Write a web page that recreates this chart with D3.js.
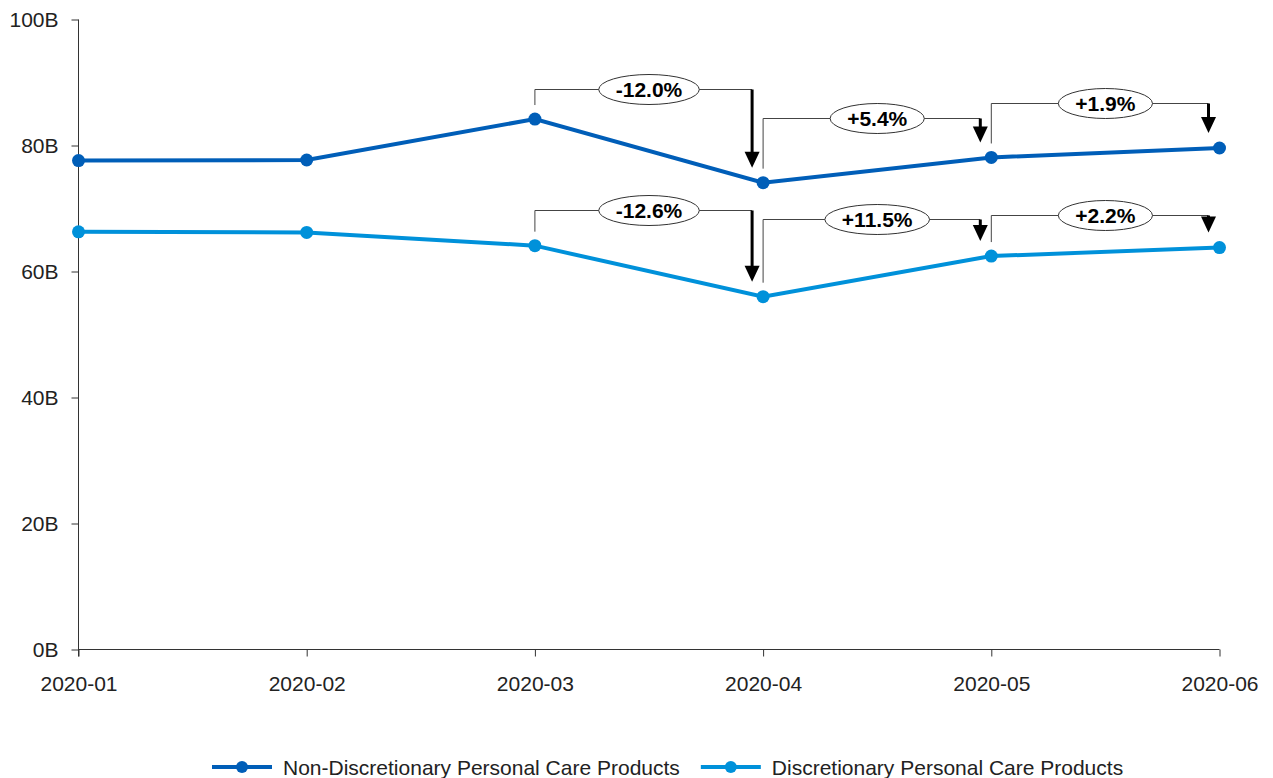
<!DOCTYPE html>
<html>
<head>
<meta charset="utf-8">
<script src="https://cdn.jsdelivr.net/npm/d3@7/dist/d3.min.js"></script>
<style>
  html, body { margin: 0; padding: 0; background: #fff; }
  svg { display: block; font-family: "Liberation Sans", Arial, sans-serif; }
</style>
</head>
<body>
<svg id="chart" width="1273" height="778"></svg>
<script>
// Monthly sales, billions
const months = ["2020-01", "2020-02", "2020-03", "2020-04", "2020-05", "2020-06"];
const nonDiscretionary = [77.6, 77.7, 84.2, 74.1, 78.1, 79.6];
const discretionary = [66.3, 66.2, 64.1, 56.0, 62.45, 63.8];
const seriesNames = ["Non-Discretionary Personal Care Products", "Discretionary Personal Care Products"];
const seriesColors = ["#005EB8", "#0091DA"];
// Height (in billions) of the month-over-month change brackets
const nonDiscBracketLevels = [88.9, 84.4, 86.7];
const discBracketLevels = [69.7, 68.3, 69.0];
const yTicks = [0, 20, 40, 60, 80, 100];

const svg = d3.select("#chart");
const x = d3.scalePoint().domain(months).range([78.5, 1219.5]);
const y = d3.scaleLinear().domain([0, 100]).range([649.5, 19.5]);

// Axes
const yAxis = svg.append("g")
  .attr("transform", "translate(78.5,0)")
  .call(d3.axisLeft(y).tickValues(yTicks).tickSize(7).tickPadding(13).tickFormat(d => d + "B"));
const xAxis = svg.append("g")
  .attr("transform", "translate(0,649.5)")
  .call(d3.axisBottom(x).tickSize(7).tickPadding(20));
[yAxis, xAxis].forEach(g => {
  g.attr("font-size", 21).attr("font-family", "Liberation Sans, Arial, sans-serif");
  g.select(".domain").attr("stroke", "#333").attr("stroke-width", 1);
  g.selectAll(".tick line").attr("stroke", "#333");
  g.selectAll(".tick text").attr("fill", "#222");
});
// axis lines without the outer ticks
yAxis.select(".domain").attr("d", `M0,${y(100)}V${y(0) + 7}`);
xAxis.select(".domain").attr("d", `M${x(months[0])},0H${x(months[months.length - 1])}`);

const series = [
  { name: seriesNames[0], values: nonDiscretionary, color: seriesColors[0], levels: nonDiscBracketLevels },
  { name: seriesNames[1], values: discretionary, color: seriesColors[1], levels: discBracketLevels }
];

const line = d3.line().x((d, i) => x(months[i])).y(d => y(d));

series.forEach(s => {
  svg.append("path")
    .datum(s.values)
    .attr("d", line)
    .attr("fill", "none")
    .attr("stroke", s.color)
    .attr("stroke-width", 4);
  svg.selectAll(null)
    .data(s.values)
    .enter().append("circle")
    .attr("cx", (d, i) => x(months[i]))
    .attr("cy", d => y(d))
    .attr("r", 6.5)
    .attr("fill", s.color);
});

// Change brackets from month 3 onward
const pct = d3.format("+.1%");
const gap = 14;
series.forEach(s => {
  for (let i = 2; i < months.length - 1; i++) {
    const x0 = x(months[i]), x1 = x(months[i + 1]);
    const y0 = y(s.values[i]), y1 = y(s.values[i + 1]);
    const by = Math.round(y(s.levels[i - 2])) + 0.5;
    const ax = x1 - 11;
    const g = svg.append("g");
    g.append("path")
      .attr("d", `M${x0},${y0 - gap}V${by}H${ax}`)
      .attr("fill", "none")
      .attr("stroke", "#444")
      .attr("stroke-width", 1);
    const tipY = y1 - gap - 1;
    g.append("line")
      .attr("x1", ax).attr("x2", ax)
      .attr("y1", by).attr("y2", tipY - 10)
      .attr("stroke", "#000").attr("stroke-width", 3);
    g.append("path")
      .attr("d", `M${ax - 7.5},${tipY - 16}L${ax + 7.5},${tipY - 16}L${ax},${tipY}Z`)
      .attr("fill", "#000");
    const change = s.values[i + 1] / s.values[i] - 1;
    const cx = (x0 + x1) / 2;
    const label = g.append("text")
      .attr("x", cx).attr("y", by)
      .attr("text-anchor", "middle")
      .attr("dominant-baseline", "central")
      .style("font-size", "21px")
      .style("font-weight", "bold")
      .attr("fill", "#000")
      .text(pct(change).replace("−", "-"));
    const w = label.node().getComputedTextLength();
    g.insert("ellipse", "text")
      .attr("cx", cx).attr("cy", by)
      .attr("rx", w / 2 + 17).attr("ry", 15)
      .attr("fill", "#fff")
      .attr("stroke", "#333")
      .attr("stroke-width", 1);
  }
});

// Legend
const legend = svg.append("g").attr("transform", "translate(0,767)");
let lx = 212;
series.forEach(s => {
  const item = legend.append("g").attr("transform", `translate(${lx},0)`);
  item.append("line").attr("x1", 0).attr("x2", 60).attr("stroke", s.color).attr("stroke-width", 4);
  item.append("circle").attr("cx", 30).attr("r", 6).attr("fill", s.color);
  const t = item.append("text")
    .attr("x", 71).attr("dominant-baseline", "central")
    .style("font-size", "21px").attr("fill", "#222")
    .text(s.name);
  lx += 71 + t.node().getComputedTextLength() + 21;
});
</script>
</body>
</html>
